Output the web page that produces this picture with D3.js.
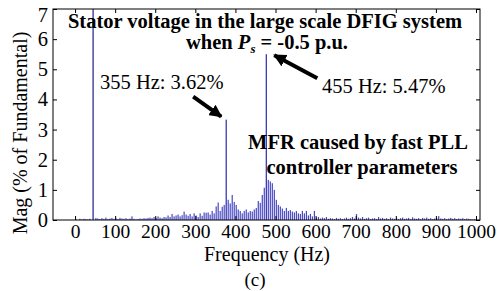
<!DOCTYPE html>
<html>
<head>
<meta charset="utf-8">
<script src="https://cdn.jsdelivr.net/npm/d3@7"></script>
<style>
  body { margin: 0; background: #fff; }
  svg { display: block; font-family: "Liberation Serif", "Times New Roman", serif; }
</style>
</head>
<body>
<svg width="500" height="291"></svg>
<script>
// FFT bins (Hz) and magnitudes (% of fundamental)
var binFreqs = d3.range(2, 1000, 5);
var binMags = [
  0.03,0.00,0.04,0.02,0.04,0.03,0.02,0.04,0.00,0.00,
  0.07,0.05,0.03,0.06,0.04,0.08,0.03,0.05,0.07,0.04,
  0.06,0.03,0.07,0.05,0.04,0.06,0.03,0.05,0.12,0.04,
  0.02,0.03,0.05,0.04,0.06,0.05,0.07,0.08,0.06,0.10,
  0.07,0.12,0.08,0.06,0.10,0.09,0.15,0.10,0.20,0.12,
  0.15,0.18,0.12,0.16,0.28,0.18,0.14,0.20,0.12,0.22,
  0.15,0.10,0.22,0.14,0.25,0.24,0.25,0.18,0.30,0.22,
  0.45,0.58,0.30,0.44,0.50,3.33,0.67,0.55,0.83,0.60,
  0.50,0.35,0.30,0.22,0.30,0.35,0.25,0.30,0.28,0.35,
  0.40,0.63,0.57,0.83,1.07,5.50,1.33,1.28,1.22,1.00,
  0.67,0.50,0.45,0.38,0.30,0.40,0.30,0.33,0.28,0.25,
  0.30,0.22,0.20,0.30,0.22,0.30,0.15,0.20,0.12,0.30,
  0.08,0.10,0.05,0.08,0.06,0.10,0.04,0.06,0.05,0.03,
  0.07,0.04,0.06,0.03,0.05,0.08,0.04,0.06,0.10,0.05,
  0.20,0.08,0.05,0.10,0.04,0.06,0.08,0.03,0.05,0.06,
  0.03,0.10,0.05,0.07,0.04,0.06,0.03,0.08,0.05,0.04,
  0.07,0.03,0.06,0.08,0.04,0.05,0.07,0.03,0.09,0.05,
  0.04,0.06,0.03,0.07,0.05,0.08,0.04,0.06,0.03,0.05,
  0.07,0.13,0.05,0.04,0.06,0.03,0.05,0.07,0.04,0.06,
  0.03,0.05,0.04,0.06,0.03,0.05,0.04,0.03,0.02,0.03
];
var fundFreq = 45, fundMag = 100;   // fundamental, goes off the top
var peakIdx = [75, 95];             // bins called out with arrows
var peakLabels = ["355 Hz: 3.62%", "455 Hz: 5.47%"];
var xTicks = d3.range(0, 1001, 100);
var yTicks = d3.range(0, 8, 1);

var svg = d3.select("svg"),
    margin = {top: 9, right: 20, bottom: 71, left: 53},
    width = +svg.attr("width") - margin.left - margin.right,
    height = +svg.attr("height") - margin.top - margin.bottom;

var x = d3.scaleLinear().domain([-55, 1010]).range([0, width]);
var y = d3.scaleLinear().domain([0, 7]).range([height, 0]);

var g = svg.append("g")
    .attr("transform", "translate(" + margin.left + "," + margin.top + ")");

g.append("clipPath").attr("id", "clip")
  .append("rect").attr("width", width).attr("height", height);

var plot = g.append("g").attr("clip-path", "url(#clip)");

// spectrum bars
plot.selectAll(".bar")
  .data(binFreqs)
  .enter().append("rect")
    .attr("class", "bar")
    .attr("x", function(d) { return x(d) - 0.6; })
    .attr("width", 1.2)
    .attr("y", function(d, i) { return y(binMags[i]); })
    .attr("height", function(d, i) { return y(0) - y(binMags[i]); })
    .attr("fill", function(d, i) { return binMags[i] > 3 ? "#2a2ab0" : "#4848c4"; });

// fundamental
plot.append("line")
  .attr("x1", x(fundFreq)).attr("x2", x(fundFreq))
  .attr("y1", y(0)).attr("y2", y(fundMag))
  .attr("stroke", "#1c1c90").attr("stroke-width", 1.2);

// axes with MATLAB style box and inward ticks
function styleAxis(sel) {
  sel.attr("font-family", null).attr("font-size", null);
  sel.select(".domain").remove();
  sel.selectAll("line").attr("stroke", "#000");
  sel.selectAll("text").attr("font-size", 19.5).attr("fill", "#000");
}
var fmt = d3.format("d");
g.append("g").attr("transform", "translate(0," + height + ")")
  .call(d3.axisBottom(x).tickValues(xTicks).tickSize(-4).tickPadding(4).tickFormat(fmt))
  .call(styleAxis);
g.append("g")
  .call(d3.axisTop(x).tickValues(xTicks).tickSize(-4).tickFormat(""))
  .call(styleAxis);
g.append("g")
  .call(d3.axisLeft(y).tickValues(yTicks).tickSize(-4).tickPadding(5).tickFormat(fmt))
  .call(styleAxis)
  .selectAll("text")
    .attr("font-size", 20.5)
    .filter(function(d) { return d === 7; })
    .attr("dy", "0.62em");
g.append("g").attr("transform", "translate(" + width + ",0)")
  .call(d3.axisRight(y).tickValues(yTicks).tickSize(-4).tickFormat(""))
  .call(styleAxis);

g.append("rect")
  .attr("width", width).attr("height", height)
  .attr("fill", "none").attr("stroke", "#000").attr("stroke-width", 1);

// axis titles
svg.append("text")
  .attr("x", 267).attr("y", 261)
  .attr("text-anchor", "middle").attr("font-size", 20)
  .text("Frequency (Hz)");
svg.append("text")
  .attr("transform", "translate(27,133) rotate(-90)")
  .attr("text-anchor", "middle").attr("font-size", 20)
  .text("Mag (% of Fundamental)");
svg.append("text")
  .attr("x", 255).attr("y", 286)
  .attr("text-anchor", "middle").attr("font-size", 19)
  .text("(c)");

// title
var title = svg.append("g").attr("font-weight", "bold").attr("font-size", 20.5)
  .attr("text-anchor", "middle");
title.append("text").attr("x", 265).attr("y", 27.5)
  .text("Stator voltage in the large scale DFIG system");
var t2 = title.append("text").attr("x", 267).attr("y", 49);
t2.append("tspan").text("when ");
t2.append("tspan").attr("font-style", "italic").text("P");
t2.append("tspan").attr("font-size", 13).attr("font-style", "italic").attr("dy", 4).text("s");
t2.append("tspan").attr("dy", -4).text(" = -0.5 p.u.");

var note = svg.append("g").attr("font-weight", "bold").attr("font-size", 20.5)
  .attr("text-anchor", "middle");
note.append("text").attr("x", 358).attr("y", 149).text("MFR caused by fast PLL");
note.append("text").attr("x", 362).attr("y", 174).text("controller parameters");

// peak annotations
svg.append("defs").append("marker")
  .attr("id", "head").attr("viewBox", "0 0 10 10")
  .attr("refX", 9).attr("refY", 5)
  .attr("markerWidth", 3.2).attr("markerHeight", 3.2)
  .attr("orient", "auto")
  .append("path").attr("d", "M0,0L10,5L0,10z").attr("fill", "#000");

var px1 = margin.left + x(binFreqs[peakIdx[0]]), py1 = margin.top + y(binMags[peakIdx[0]]);
var px2 = margin.left + x(binFreqs[peakIdx[1]]), py2 = margin.top + y(binMags[peakIdx[1]]);

svg.append("text").attr("x", 100).attr("y", 89).attr("font-size", 20.5)
  .text(peakLabels[0]);
svg.append("text").attr("x", 322).attr("y", 93).attr("font-size", 20.5)
  .text(peakLabels[1]);

svg.append("line")
  .attr("x1", px1 - 33).attr("y1", py1 - 23)
  .attr("x2", px1 - 5).attr("y2", py1 - 3)
  .attr("stroke", "#000").attr("stroke-width", 4)
  .attr("marker-end", "url(#head)");
svg.append("line")
  .attr("x1", px2 + 51).attr("y1", py2 + 24)
  .attr("x2", px2 + 8).attr("y2", py2 + 1)
  .attr("stroke", "#000").attr("stroke-width", 4)
  .attr("marker-end", "url(#head)");
</script>
</body>
</html>
